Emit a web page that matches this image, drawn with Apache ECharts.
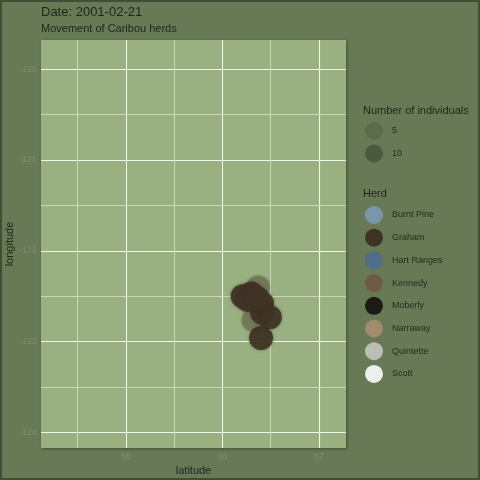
<!DOCTYPE html>
<html><head><meta charset="utf-8">
<script src="https://cdn.jsdelivr.net/npm/echarts@6/dist/echarts.min.js"></script>
<style>html,body{margin:0;padding:0;background:#677a55}#c{width:480px;height:480px}</style>
</head><body><div id="c"></div>
<script>
const herds = ['Burnt Pine','Graham','Hart Ranges','Kennedy','Moberly','Narraway','Quintette','Scott'];
const herdColors = ['#7b96ab','#3e3325','#4e6e8b','#6f5b45','#1c1c15','#a18b6b','#bdbdb8','#eeeeec'];
const sizeLabels = ['5','10'];
const sizeColors = ['#5b6c4c','#4a5a3f'];
// Graham herd points on 2001-02-21
const grahamLat = [56.21, 56.30, 56.37, 56.26, 56.41, 56.41, 56.49, 56.40, 56.32, 56.36];
const grahamLon = [-122.50, -122.47, -122.40, -122.54, -122.58, -122.68, -122.73, -122.96, -122.76, -122.52];
const grahamAlpha = [0.9, 0.9, 0.3, 0.9, 0.9, 0.9, 0.9, 0.9, 0.3, 0.9];
const xMajor = [55, 56, 57];
const xMinor = [54.5, 55.5, 56.5];
const yMajor = [-124, -123, -122, -121, -120];
const yMinor = [-123.5, -122.5, -121.5, -120.5];

const XMIN = 54.12, XMAX = 57.28, YMIN = -124.17, YMAX = -119.68;
const labelCol = '#7e8c6b';

const chart = echarts.init(document.getElementById('c'));
const series = [];
sizeLabels.forEach((s, i) => series.push({name: s, type: 'scatter', data: [], itemStyle: {color: sizeColors[i]}}));
herds.forEach((h, i) => {
  const d = h === 'Graham' ? grahamLat.map((v, k) => ({value: [v, grahamLon[k]], itemStyle: {opacity: grahamAlpha[k]}})) : [];
  series.push({name: h, type: 'scatter', xAxisIndex: 0, yAxisIndex: 0, data: d, symbolSize: 24,
    itemStyle: {color: herdColors[i], opacity: 0.9, shadowBlur: 3, shadowColor: 'rgba(62,51,37,0.6)'}, z: 5});
});

const tStyle = (fs) => ({fontFamily: 'Liberation Sans', fontSize: fs, fontWeight: 'normal', color: '#1f241a'});
chart.setOption({
  animation: false,
  backgroundColor: '#677a55',
  title: [
    {text: 'Date: 2001-02-21', left: 41, top: 6, padding: 0, textStyle: tStyle(13)},
    {text: 'Movement of Caribou herds', left: 41, top: 23, padding: 0, textStyle: tStyle(11)},
    {text: 'Number of individuals', left: 363, top: 105, padding: 0, textStyle: tStyle(11)},
    {text: 'Herd', left: 363, top: 188, padding: 0, textStyle: tStyle(11)}
  ],
  graphic: [{type: 'rect', shape: {x: 1, y: 1, width: 478, height: 478}, style: {fill: null, stroke: '#3f4e34', lineWidth: 2}, z: 100}],
  legend: [
    {data: sizeLabels.map(s => ({name: s, itemStyle: {opacity: 1, shadowBlur: 0}})), orient: 'vertical', left: 365, top: 122, padding: 0, itemWidth: 18, itemHeight: 18, itemGap: 4.5, icon: 'circle', selectedMode: false,
     textStyle: {fontFamily: 'Liberation Sans', fontSize: 9, color: '#252a1e', padding: [0,0,0,4]}},
    {data: herds.map(s => ({name: s, itemStyle: {opacity: 1, shadowBlur: 0}})), orient: 'vertical', left: 365, top: 206, padding: 0, itemWidth: 18, itemHeight: 18, itemGap: 4.7, icon: 'circle', selectedMode: false,
     textStyle: {fontFamily: 'Liberation Sans', fontSize: 9, color: '#252a1e', padding: [0,0,0,4]}}
  ],
  grid: {left: 41, right: 134, top: 40, bottom: 32, show: true, backgroundColor: '#99b080', borderWidth: 0,
    containLabel: false, outerBoundsMode: 'none',
    shadowBlur: 3, shadowColor: 'rgba(0,0,0,0.35)', shadowOffsetX: 1, shadowOffsetY: 1},
  xAxis: [
    {type: 'value', min: XMIN, max: XMAX, name: 'latitude', nameLocation: 'middle', nameGap: 17, nameMoveOverlap: false,
     nameTextStyle: {fontFamily: 'Liberation Sans', fontSize: 11, color: '#1f241a'},
     axisLine: {show: false}, axisTick: {show: false, customValues: xMajor},
     axisLabel: {customValues: xMajor, color: labelCol, fontSize: 9, margin: 4, fontFamily: 'Liberation Sans'},
     splitLine: {show: true, lineStyle: {color: '#f2f4ec', width: 1.1}}, z: 2},
    {type: 'value', min: XMIN, max: XMAX, axisLine: {show: false}, axisTick: {show: false, customValues: xMinor},
     axisLabel: {show: false, customValues: xMinor},
     splitLine: {show: true, lineStyle: {color: '#dfe7d3', width: 0.7}}, z: 1}
  ],
  yAxis: [
    {type: 'value', min: YMIN, max: YMAX, name: 'longitude', nameLocation: 'middle', nameGap: 26, nameMoveOverlap: false,
     nameTextStyle: {fontFamily: 'Liberation Sans', fontSize: 11, color: '#1f241a'},
     axisLine: {show: false}, axisTick: {show: false, customValues: yMajor},
     axisLabel: {customValues: yMajor, color: labelCol, fontSize: 9, margin: 4, fontFamily: 'Liberation Sans'},
     splitLine: {show: true, lineStyle: {color: '#f2f4ec', width: 1.1}}, z: 2},
    {type: 'value', min: YMIN, max: YMAX, axisLine: {show: false}, axisTick: {show: false, customValues: yMinor},
     axisLabel: {show: false, customValues: yMinor},
     splitLine: {show: true, lineStyle: {color: '#dfe7d3', width: 0.7}}, z: 1}
  ],
  series: series
});
</script></body></html>
